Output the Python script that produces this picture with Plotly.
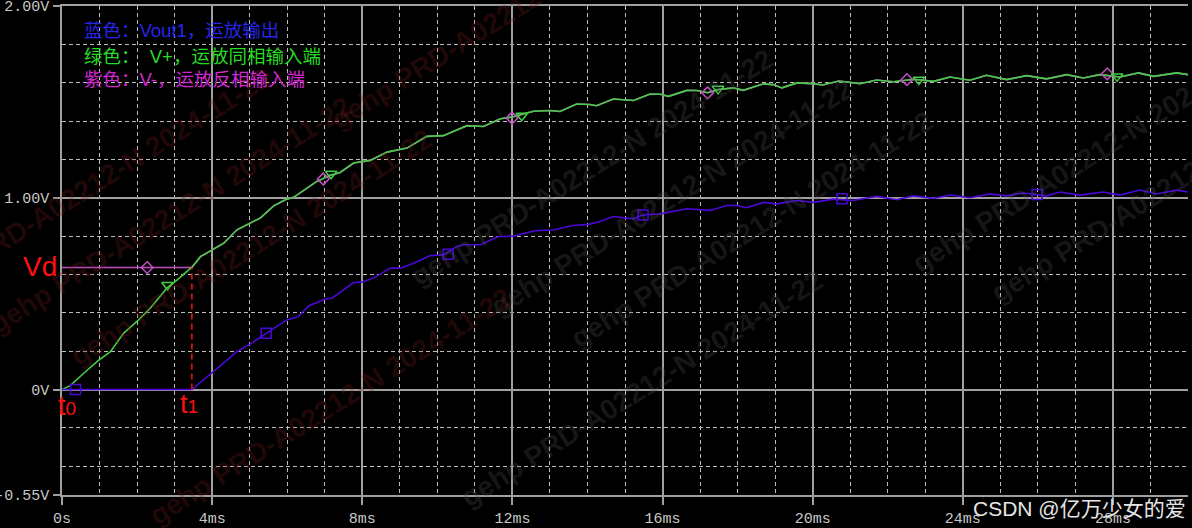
import plotly.graph_objects as go

# ---------------- data ----------------
t_vplus = [0, 0.22, 0.58, 0.93, 1.29, 1.64, 2.04, 2.35, 2.8, 3.07, 3.46, 3.69, 4.0, 4.31, 4.66,
           5.02, 5.28, 5.64, 5.99, 6.17, 6.53, 6.79, 7.15, 7.41, 7.77, 8.21, 8.66, 9.19, 9.72,
           10.16, 10.79, 11.23, 11.68, 12.0, 12.56, 13.0, 13.27, 13.71, 14.06, 14.24, 14.69,
           15.05, 15.23, 15.67, 15.94, 16.16, 16.65, 16.91, 17.2, 17.49, 17.89, 18.15, 18.69,
           18.95, 19.18, 19.58, 20.0, 20.27, 20.7, 21.26, 21.7, 22.15, 22.7, 23.22, 23.66,
           24.19, 24.63, 25.17, 25.7, 26.23, 26.77, 27.21, 27.65, 28.19, 28.68, 29.08, 29.7, 30.0]
v_vplus = [0, 0.02, 0.085, 0.145, 0.197, 0.293, 0.363, 0.424, 0.53, 0.572, 0.638, 0.693, 0.728,
           0.763, 0.833, 0.869, 0.894, 0.958, 0.993, 1.002, 1.05, 1.085, 1.118, 1.132, 1.181,
           1.195, 1.238, 1.259, 1.32, 1.324, 1.376, 1.372, 1.412, 1.421, 1.451, 1.455, 1.45,
           1.489, 1.486, 1.48, 1.515, 1.512, 1.507, 1.541, 1.54, 1.529, 1.56, 1.559, 1.548,
           1.565, 1.573, 1.56, 1.594, 1.59, 1.573, 1.599, 1.595, 1.588, 1.609, 1.595, 1.614,
           1.605, 1.618, 1.607, 1.63, 1.613, 1.639, 1.616, 1.637, 1.62, 1.642, 1.625, 1.642,
           1.63, 1.651, 1.633, 1.651, 1.642]

t_vout = [0, 3.46, 4.0, 4.66, 5.02, 5.44, 5.99, 6.3, 6.57, 7.01, 7.19, 7.77, 7.99, 8.3, 8.75,
          9.01, 9.37, 9.81, 10.16, 10.52, 10.7, 11.14, 11.63, 12.03, 12.6, 13.1, 13.6, 14.0,
          14.34, 14.69, 15.23, 15.47, 15.94, 16.65, 17.0, 17.27, 17.71, 17.98, 18.24, 18.69,
          19.04, 19.58, 20.02, 20.55, 21.07, 21.7, 22.24, 22.68, 23.22, 23.66, 24.19, 24.72,
          25.17, 25.61, 26.23, 26.59, 27.12, 27.74, 28.19, 28.72, 29.16, 29.7, 30.0]
v_vout = [0, 0, 0.088, 0.197, 0.238, 0.293, 0.363, 0.38, 0.436, 0.472, 0.476, 0.558, 0.56, 0.581,
          0.633, 0.633, 0.659, 0.699, 0.702, 0.746, 0.755, 0.755, 0.798, 0.8, 0.828, 0.832,
          0.855, 0.86, 0.876, 0.902, 0.89, 0.91, 0.916, 0.943, 0.937, 0.934, 0.96, 0.96, 0.948,
          0.976, 0.968, 0.986, 0.976, 0.993, 0.986, 1.007, 0.99, 1.01, 0.997, 1.014, 1.0, 1.02,
          1.01, 1.025, 1.01, 1.03, 1.014, 1.03, 1.014, 1.04, 1.02, 1.04, 1.03]

vd = 0.636          # V- level before t1
t1 = 3.46           # ms
t_vminus = [0, t1] + [t for t in t_vplus if t > t1]
v_vminus = [vd, vd] + [v for t, v in zip(t_vplus, v_vplus) if t > t1]

# marker positions
sq_t = [0.36, 5.44, 10.29, 15.48, 20.78, 25.98]
sq_v = [0.0, 0.293, 0.705, 0.91, 0.995, 1.017]
tri_t = [2.81, 7.17, 12.25, 17.48, 22.83, 28.11]
tri_v = [0.545, 1.125, 1.428, 1.568, 1.616, 1.633]
dia_t = [2.27, 6.96, 11.99, 17.2, 22.51, 27.85]
dia_v = [0.636, 1.098, 1.416, 1.547, 1.616, 1.646]

x_major = [0, 4, 8, 12, 16, 20, 24, 28]
x_labels = ["0s", "4ms", "8ms", "12ms", "16ms", "20ms", "24ms", "28ms"]
x_minor = [m for m in range(1, 31) if m % 4 != 0]
y_major = [-0.55, 0, 1, 2]
y_labels = ["-0.55V", "0V", "1.00V", "2.00V"]
y_minor = [-0.4, -0.2, 0.2, 0.4, 0.6, 0.8, 1.2, 1.4, 1.6, 1.8]

legend_lines = ["蓝色：Vout1，运放输出", "绿色：  V+，运放同相输入端", "紫色：V-，运放反相输入端"]
legend_colors = ["#2626e8", "#26dc26", "#d028d0"]
legend_y = [1.872, 1.736, 1.616]

# watermark string centres (ms, V) and tint
wm_text = "<b>gehp PRD-A02212-N 2024-11-22</b>"
wm_centres = [(-4.29, 1.72), (12.0, 2.64), (-2.16, 0.91), (14.12, 1.82), (0.0, 0.08),
              (16.25, 1.0), (2.11, -0.75), (18.38, 0.17), (32.5, 1.89), (20.5, -0.66), (34.6, 1.07)]
wm_red = [True, True, True, False, True, False, True, False, False, False, False]

BLUE = "#4a08d8"
GREEN = "#44cc44"
PURPLE = "#c050c0"
RED = "#ff1010"

X0, X1, Y0, Y1 = 0.0, 30.0, -0.55, 2.0


def px_(t):
    return (t - X0) / (X1 - X0)


def py_(v):
    return (v - Y0) / (Y1 - Y0)


fig = go.Figure()

for (wx, wy), red in zip(wm_centres, wm_red):
    fig.add_annotation(x=px_(wx), y=py_(wy), xref="paper", yref="paper", text=wm_text,
                       showarrow=False, textangle=-32,
                       font=dict(family="Liberation Sans", size=28,
                                 color="rgba(120,30,30,0.28)" if red else "rgba(80,80,80,0.28)"))

fig.add_trace(go.Scatter(x=t_vminus, y=v_vminus, mode="lines",
                         line=dict(color=PURPLE, width=1.6), hoverinfo="skip"))
fig.add_trace(go.Scatter(x=t_vplus, y=v_vplus, mode="lines",
                         line=dict(color=GREEN, width=1.6), hoverinfo="skip"))
fig.add_trace(go.Scatter(x=t_vout, y=v_vout, mode="lines",
                         line=dict(color=BLUE, width=1.6), hoverinfo="skip"))
fig.add_trace(go.Scatter(x=dia_t, y=dia_v, mode="markers",
                         marker=dict(symbol="diamond-open", size=9, color=PURPLE, line=dict(width=1.5))))
fig.add_trace(go.Scatter(x=tri_t, y=tri_v, mode="markers",
                         marker=dict(symbol="triangle-down-open", size=10, color=GREEN, line=dict(width=1.5))))
fig.add_trace(go.Scatter(x=sq_t, y=sq_v, mode="markers",
                         marker=dict(symbol="square-open", size=10, color=BLUE, line=dict(width=1.5))))
# t1 marker line
fig.add_trace(go.Scatter(x=[t1, t1], y=[0, vd], mode="lines",
                         line=dict(color=RED, width=1.5, dash="6px,4px"), hoverinfo="skip"))

# legend text
for txt, col, ly in zip(legend_lines, legend_colors, legend_y):
    fig.add_annotation(x=0.54, y=ly, xref="x", yref="y", text=txt,
                       showarrow=False, xanchor="left", yanchor="middle",
                       font=dict(family="Liberation Sans, Noto Sans CJK SC", size=18.5, color=col))

# red labels
fig.add_annotation(x=px_(-0.58), y=py_(0.64), xref="paper", yref="paper", text="Vd",
                   showarrow=False, xanchor="center", yanchor="middle",
                   font=dict(family="Liberation Sans", size=28, color=RED))
fig.add_annotation(x=0.14, y=-0.085, text="t<span style='font-size:19px'>0</span>", showarrow=False,
                   xanchor="center", yanchor="middle", font=dict(family="Liberation Sans", size=27, color=RED))
fig.add_annotation(x=3.39, y=-0.075, text="t<span style='font-size:19px'>1</span>", showarrow=False,
                   xanchor="center", yanchor="middle", font=dict(family="Liberation Sans", size=27, color=RED))

# CSDN watermark
fig.add_annotation(x=1.0, y=py_(-0.62), xref="paper", yref="paper", text="CSDN @亿万少女的爱",
                   showarrow=False, xanchor="right", yanchor="middle",
                   font=dict(family="Liberation Sans, Noto Sans CJK SC", size=21, color="#e6e6e6"))

grid_solid = "#a0a0a0"
grid_dash = "#bdbdbd"
tick_font = dict(family="Liberation Mono", size=15, color="#c8c8c8")

fig.update_xaxes(range=[X0, X1], tickvals=x_major, ticktext=x_labels, showgrid=True,
                 gridcolor=grid_solid, gridwidth=1.5, zeroline=False, showline=True,
                 linecolor=grid_solid, linewidth=1.5, mirror=True, ticks="outside", ticklen=8,
                 tickcolor=grid_solid, tickwidth=1.5, tickfont=tick_font, ticklabelstandoff=0,
                 automargin=False, ticklabeloverflow="allow",
                 minor=dict(tickvals=x_minor, showgrid=True, gridcolor=grid_dash,
                            griddash="4px,3px", gridwidth=1.2, ticks=""))
fig.update_yaxes(range=[Y0, Y1], tickvals=y_major, ticktext=y_labels, showgrid=True,
                 gridcolor=grid_solid, gridwidth=1.5, zeroline=False, showline=True,
                 linecolor=grid_solid, linewidth=1.5, ticks="outside", ticklen=7,
                 tickcolor=grid_solid, tickwidth=1.5, tickfont=tick_font, ticklabelstandoff=1,
                 automargin=False, ticklabeloverflow="allow",
                 minor=dict(tickvals=y_minor, showgrid=True, gridcolor=grid_dash,
                            griddash="4px,3px", gridwidth=1.2, ticks=""))

fig.update_layout(width=1192, height=528, margin=dict(l=62, r=4, t=6, b=33),
                  paper_bgcolor="black", plot_bgcolor="black", showlegend=False)

fig.write_html("out.html", config={"displayModeBar": False},
               post_script="document.body.style.margin='0px';document.body.style.background='black';")
